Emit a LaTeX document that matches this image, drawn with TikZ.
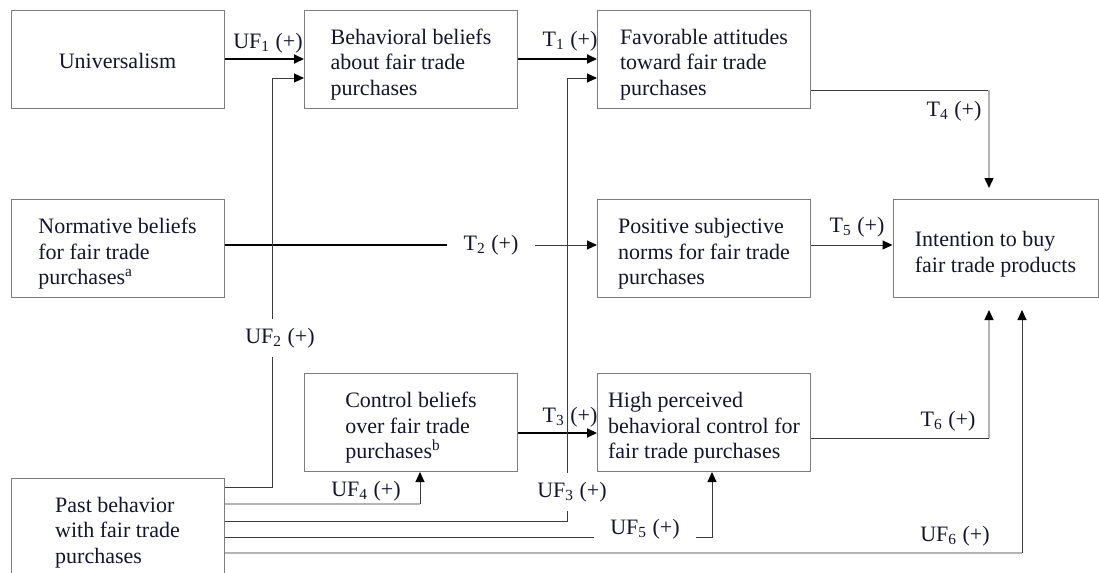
\documentclass[tikz,border=0pt]{standalone}
\usepackage{fontspec}
\setmainfont{Liberation Serif}
\usetikzlibrary{arrows.meta}
\definecolor{TextClr}{RGB}{20,20,45}
\definecolor{BoxClr}{RGB}{125,125,125}
\definecolor{DarkClr}{RGB}{60,60,60}
\definecolor{LightClr}{RGB}{180,180,180}

\begin{document}
\begin{tikzpicture}[x=0.5pt,y=-0.5pt,font=\fontsize{11}{12.75}\selectfont,text=TextClr,
  box/.style={draw=BoxClr,line width=0.5pt,minimum width=106.5pt,minimum height=49pt,align=left,inner sep=0pt,text depth=0pt,text height=#1},
  box/.default=36pt,
  lbl/.style={inner sep=1pt},
  gaplbl/.style={inner xsep=8pt,inner ysep=4.5pt},
  arrowtip/.style={-{Triangle[length=5pt,width=4.5pt,color=black]}},
  thickline/.style={line width=1pt,black},
  darkline/.style={line width=0.5pt,DarkClr},
  lightline/.style={line width=0.7pt,LightClr}]
\useasboundingbox (0,0) rectangle (1099,573);

\node[box=9.5pt] (univ) at (117.5,59) {Universalism};
\node[box] (behav) at (411,59) {Behavioral beliefs\\about fair trade\\purchases};
\node[box] (attit) at (704,59) {Favorable attitudes\\toward fair trade\\purchases};
\node[box] (norm) at (117.5,248.5) {Normative beliefs\\for fair trade\\purchases\textsuperscript{a}};
\node[box] (subj) at (704,248.5) {Positive subjective\\norms for fair trade\\purchases};
\node[box=23.5pt,minimum width=102.5pt] (intent) at (995.5,248.5) {Intention to buy\\fair trade products};
\node[box] (ctrl) at (411,422.5) {Control beliefs\\over fair trade\\purchases\textsuperscript{b}};
\node[box] (pbc) at (704,422.5) {High perceived\\behavioral control for\\fair trade purchases};
\node[box] (past) at (117.5,527) {Past behavior\\with fair trade\\purchases};

\node[lbl] (lUFa) at (268,43) {UF\textsubscript{1} (+)};
\node[lbl] (lTa) at (570,41) {T\textsubscript{1} (+)};
\node[gaplbl] (lUFb) at (280,338) {UF\textsubscript{2} (+)};
\node[gaplbl] (lTb) at (491,245) {T\textsubscript{2} (+)};
\node[gaplbl] (lUFc) at (572,492) {UF\textsubscript{3} (+)};
\node[lbl] (lTc) at (570,417) {T\textsubscript{3} (+)};
\node[lbl] (lTd) at (954,111) {T\textsubscript{4} (+)};
\node[lbl] (lTe) at (857,227) {T\textsubscript{5} (+)};
\node[lbl] (lTf) at (948,421) {T\textsubscript{6} (+)};
\node[lbl] (lUFd) at (366,491) {UF\textsubscript{4} (+)};
\node[gaplbl] (lUFe) at (645,529) {UF\textsubscript{5} (+)};
\node[lbl] (lUFf) at (955,536) {UF\textsubscript{6} (+)};

\coordinate (kUFb) at (272,487);
\coordinate (kUFd) at (420,504);
\coordinate (kUFc) at (567,521);
\coordinate (kUFe) at (712,537);
\coordinate (kUFf) at (1022,553);
\coordinate (kTd) at (989,90);
\coordinate (kTf) at (989,438);

\draw[thickline,arrowtip] (univ.east) -- (behav.west);
\draw[thickline,arrowtip] (behav.east) -- (attit.west);
\draw[thickline] (norm.east |- lTb) -- (lTb.west);
\draw[darkline,arrowtip] (lTb.east) -- (subj.west |- lTb);
\draw[thickline,arrowtip] ([yshift=-5.25pt]ctrl.east) -- ([yshift=-5.25pt]pbc.west);
\draw[darkline,arrowtip] ([yshift=1.75pt]subj.east) -- ([yshift=1.75pt]intent.west);

\draw[darkline] (attit.east |- kTd) -- (kTd);
\draw[lightline,arrowtip,shorten >=5.5pt] (kTd) -- (kTd |- intent.north);
\draw[darkline] (pbc.east |- kTf) -- (kTf);
\draw[lightline,arrowtip,shorten >=6pt] (kTf) -- (kTf |- intent.south);

\draw[darkline] (past.east |- kUFb) -- (kUFb) -- (kUFb |- lUFb.south);
\draw[darkline,arrowtip] (kUFb |- lUFb.north) |- ([yshift=-9.5pt]behav.west);
\draw[lightline] (past.east |- kUFd) -- (kUFd);
\draw[darkline,arrowtip] (kUFd) -- (kUFd |- ctrl.south);
\draw[darkline] (past.east |- kUFc) -- (kUFc) -- (kUFc |- lUFc.south);
\draw[darkline,arrowtip] (kUFc |- lUFc.north) |- ([yshift=-9.5pt]attit.west);
\draw[darkline] (past.east |- kUFe) -- (lUFe.west |- kUFe);
\draw[darkline,arrowtip] (lUFe.east |- kUFe) -- (kUFe) -- (kUFe |- pbc.south);
\draw[lightline] (past.east |- kUFf) -- (kUFf);
\draw[darkline,arrowtip,shorten >=6pt] (kUFf) -- (kUFf |- intent.south);

\end{tikzpicture}
\end{document}
